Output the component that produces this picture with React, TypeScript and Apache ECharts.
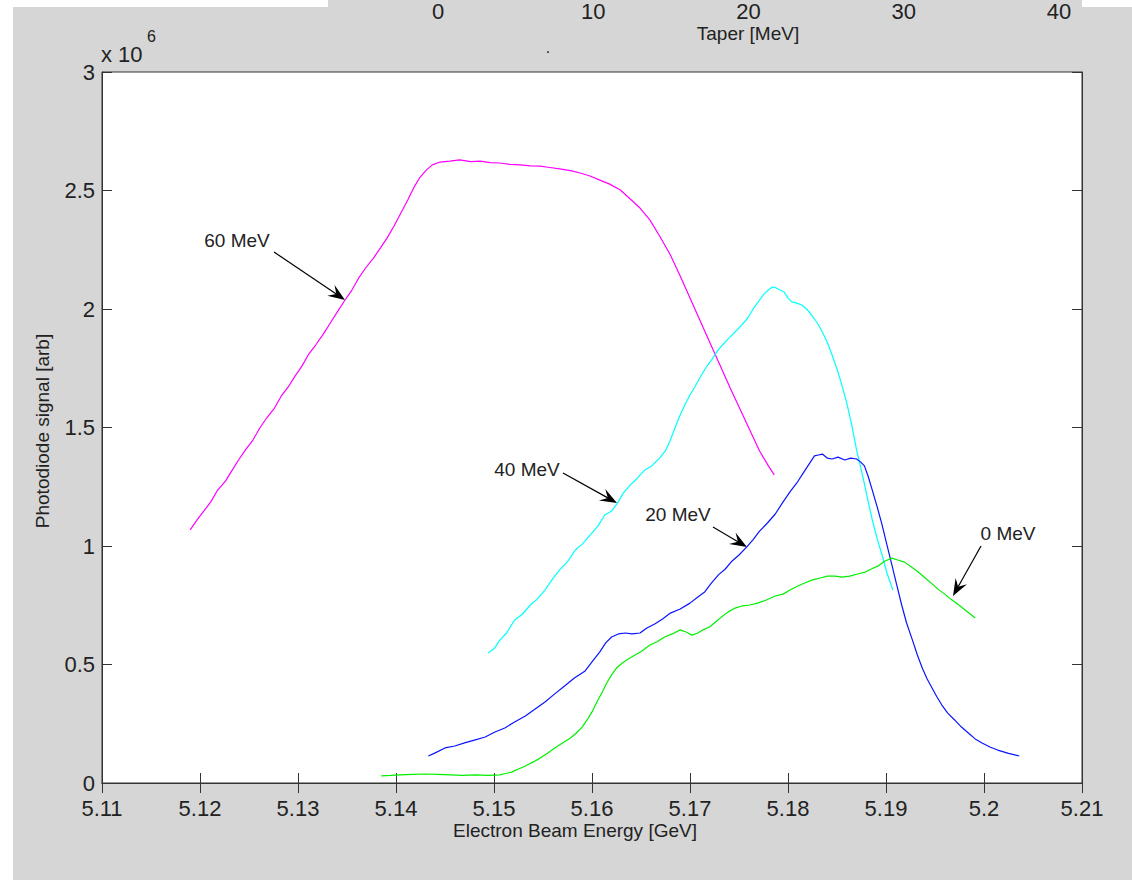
import React, { useEffect, useRef } from "react";
import * as echarts from "echarts";

// Electron beam energy [GeV] and photodiode signal [x 1e6 arb] for each taper setting
const taper60Energy = [5.119, 5.1197, 5.1204, 5.1211, 5.1218, 5.1226, 5.1233, 5.124, 5.1247, 5.1254, 5.1261, 5.1268, 5.1276, 5.1283, 5.129, 5.1297, 5.1304, 5.1311, 5.1318, 5.1326, 5.1333, 5.134, 5.1348, 5.1355, 5.1362, 5.1369, 5.1377, 5.1384, 5.1391, 5.1398, 5.1405, 5.1412, 5.1418, 5.1424, 5.1431, 5.1437, 5.1445, 5.1455, 5.1465, 5.1476, 5.1486, 5.1496, 5.1506, 5.1516, 5.1527, 5.1537, 5.1547, 5.1557, 5.1567, 5.1578, 5.1588, 5.1598, 5.1608, 5.1618, 5.1629, 5.1639, 5.1649, 5.1659, 5.1669, 5.168, 5.169, 5.17, 5.171, 5.172, 5.1731, 5.1741, 5.1751, 5.1761, 5.1771, 5.178, 5.1786];
const taper60Signal = [1.068, 1.11, 1.148, 1.186, 1.236, 1.274, 1.321, 1.367, 1.409, 1.447, 1.498, 1.54, 1.582, 1.633, 1.671, 1.717, 1.759, 1.81, 1.848, 1.895, 1.941, 1.987, 2.038, 2.08, 2.131, 2.173, 2.215, 2.257, 2.3, 2.35, 2.405, 2.46, 2.511, 2.553, 2.586, 2.608, 2.62, 2.624, 2.629, 2.622, 2.624, 2.618, 2.616, 2.61, 2.608, 2.604, 2.603, 2.597, 2.591, 2.584, 2.574, 2.561, 2.544, 2.527, 2.502, 2.464, 2.426, 2.376, 2.308, 2.228, 2.139, 2.046, 1.954, 1.861, 1.759, 1.667, 1.578, 1.489, 1.401, 1.338, 1.3];

const taper40Energy = [5.1494, 5.15, 5.1506, 5.1513, 5.1521, 5.1529, 5.1537, 5.1544, 5.1552, 5.156, 5.1567, 5.1575, 5.1583, 5.159, 5.1598, 5.1606, 5.1613, 5.162, 5.1626, 5.1632, 5.1639, 5.1646, 5.1654, 5.1661, 5.1669, 5.1675, 5.168, 5.1685, 5.169, 5.1695, 5.17, 5.1705, 5.171, 5.1716, 5.1722, 5.1728, 5.1733, 5.174, 5.1746, 5.1752, 5.1759, 5.1765, 5.1771, 5.1776, 5.178, 5.1784, 5.1788, 5.1792, 5.1796, 5.18, 5.1804, 5.1809, 5.1814, 5.1819, 5.1824, 5.183, 5.1835, 5.184, 5.1845, 5.185, 5.1855, 5.186, 5.1865, 5.187, 5.1876, 5.1881, 5.1886, 5.1891, 5.1896, 5.1901, 5.1907];
const taper40Signal = [0.549, 0.566, 0.603, 0.634, 0.688, 0.712, 0.751, 0.776, 0.814, 0.862, 0.899, 0.934, 0.983, 1.008, 1.046, 1.084, 1.131, 1.148, 1.181, 1.224, 1.257, 1.285, 1.321, 1.338, 1.371, 1.402, 1.447, 1.502, 1.553, 1.598, 1.637, 1.672, 1.709, 1.751, 1.785, 1.823, 1.848, 1.878, 1.903, 1.929, 1.962, 2.004, 2.038, 2.066, 2.08, 2.093, 2.089, 2.08, 2.072, 2.046, 2.03, 2.025, 2.017, 2.0, 1.975, 1.941, 1.903, 1.861, 1.806, 1.747, 1.679, 1.603, 1.511, 1.405, 1.3, 1.203, 1.11, 1.03, 0.962, 0.886, 0.814];

const taper20Energy = [5.1433, 5.144, 5.145, 5.146, 5.147, 5.148, 5.1491, 5.1501, 5.1511, 5.1521, 5.1532, 5.1542, 5.1552, 5.1562, 5.1572, 5.1582, 5.1593, 5.16, 5.1608, 5.1614, 5.162, 5.1627, 5.1634, 5.1641, 5.1649, 5.1656, 5.1664, 5.1672, 5.168, 5.169, 5.17, 5.1708, 5.1715, 5.1722, 5.1729, 5.1736, 5.1743, 5.175, 5.1758, 5.1764, 5.1771, 5.1779, 5.1787, 5.1795, 5.1802, 5.1809, 5.1815, 5.1821, 5.1827, 5.1831, 5.1835, 5.184, 5.1845, 5.1851, 5.1858, 5.1864, 5.187, 5.1874, 5.1878, 5.1882, 5.1886, 5.1891, 5.1896, 5.1901, 5.1906, 5.1911, 5.1916, 5.1921, 5.1927, 5.1932, 5.1937, 5.1942, 5.1947, 5.1952, 5.1957, 5.1963, 5.197, 5.1977, 5.1984, 5.1991, 5.1998, 5.2006, 5.2014, 5.2025, 5.2036];
const taper20Signal = [0.114, 0.127, 0.148, 0.156, 0.169, 0.181, 0.194, 0.215, 0.232, 0.257, 0.283, 0.312, 0.342, 0.376, 0.409, 0.443, 0.473, 0.511, 0.553, 0.591, 0.616, 0.629, 0.633, 0.629, 0.633, 0.654, 0.671, 0.692, 0.717, 0.734, 0.759, 0.785, 0.806, 0.844, 0.878, 0.903, 0.937, 0.962, 0.996, 1.025, 1.063, 1.097, 1.135, 1.186, 1.228, 1.266, 1.304, 1.342, 1.38, 1.384, 1.388, 1.371, 1.367, 1.375, 1.363, 1.371, 1.367, 1.355, 1.338, 1.291, 1.236, 1.165, 1.089, 1.004, 0.92, 0.835, 0.751, 0.675, 0.603, 0.54, 0.485, 0.439, 0.401, 0.363, 0.329, 0.295, 0.266, 0.236, 0.211, 0.186, 0.169, 0.152, 0.139, 0.125, 0.114];

const taper0Energy = [5.1385, 5.1395, 5.1404, 5.1417, 5.143, 5.1443, 5.1455, 5.1468, 5.1481, 5.1494, 5.1506, 5.1512, 5.1518, 5.1525, 5.1532, 5.154, 5.1547, 5.1555, 5.1562, 5.157, 5.1578, 5.1584, 5.159, 5.1595, 5.16, 5.1605, 5.161, 5.1615, 5.162, 5.1625, 5.1631, 5.1637, 5.1644, 5.1651, 5.1659, 5.1666, 5.1674, 5.1682, 5.169, 5.1696, 5.1702, 5.1708, 5.1713, 5.172, 5.1726, 5.1732, 5.1739, 5.1746, 5.1753, 5.1761, 5.1769, 5.1778, 5.1787, 5.1795, 5.1802, 5.181, 5.1817, 5.1825, 5.1833, 5.184, 5.1848, 5.1855, 5.1863, 5.1871, 5.1879, 5.1885, 5.1892, 5.1899, 5.1906, 5.1912, 5.1919, 5.1926, 5.1933, 5.194, 5.1947, 5.1953, 5.196, 5.1966, 5.1973, 5.1982, 5.1991];
const taper0Signal = [0.03, 0.032, 0.034, 0.036, 0.038, 0.036, 0.034, 0.032, 0.034, 0.032, 0.034, 0.04, 0.046, 0.059, 0.072, 0.089, 0.105, 0.127, 0.148, 0.169, 0.19, 0.211, 0.236, 0.266, 0.3, 0.342, 0.38, 0.422, 0.456, 0.485, 0.506, 0.523, 0.54, 0.557, 0.582, 0.595, 0.616, 0.629, 0.646, 0.637, 0.624, 0.633, 0.646, 0.658, 0.679, 0.7, 0.722, 0.738, 0.747, 0.751, 0.759, 0.772, 0.789, 0.797, 0.814, 0.831, 0.844, 0.857, 0.865, 0.873, 0.873, 0.869, 0.873, 0.882, 0.89, 0.903, 0.916, 0.937, 0.949, 0.941, 0.932, 0.911, 0.89, 0.865, 0.84, 0.818, 0.797, 0.776, 0.755, 0.726, 0.696];

const energyTicks = { min: 5.11, max: 5.21, step: 0.01 };
const signalTicks = { min: 0, max: 3e6, step: 5e5 };
const taperTicks = { min: 0, max: 40, step: 10 };

const FONT = "'Liberation Sans', Arial, Helvetica, sans-serif";
const INK = "#222";
const FIG_BG = "#d6d6d6";

const pairs = (xs: number[], ys: number[]) => xs.map((x, i) => [x, ys[i] * 1e6]);

function arrow(x1: number, y1: number, x2: number, y2: number) {
  const len = Math.hypot(x2 - x1, y2 - y1);
  const ux = (x2 - x1) / len;
  const uy = (y2 - y1) / len;
  const nx = -uy;
  const ny = ux;
  const L = 17;
  const W = 6.5;
  const bx = x2 - ux * L;
  const by = y2 - uy * L;
  const mx = x2 - ux * L * 0.62;
  const my = y2 - uy * L * 0.62;
  return [
    {
      type: "line",
      shape: { x1, y1, x2: mx, y2: my },
      style: { stroke: "#000", lineWidth: 1.2 },
    },
    {
      type: "polygon",
      shape: {
        points: [
          [x2, y2],
          [bx + nx * W, by + ny * W],
          [mx, my],
          [bx - nx * W, by - ny * W],
        ],
      },
      style: { fill: "#000" },
    },
  ];
}

function label(text: string, x: number, y: number, fontSize = 19, align = "center") {
  return {
    type: "text",
    x,
    y,
    style: { text, fontSize, fontFamily: FONT, fill: INK, align, verticalAlign: "middle" },
  };
}

export default function App() {
  const ref = useRef<HTMLDivElement>(null);

  useEffect(() => {
    document.body.style.margin = "0";
    if (!ref.current) return;
    const chart = echarts.init(ref.current, undefined, { renderer: "svg" });

    const line = (name: string, color: string, data: number[][]) => ({
      name,
      type: "line",
      xAxisIndex: 0,
      yAxisIndex: 0,
      data,
      showSymbol: false,
      symbol: "none",
      lineStyle: { color, width: 1.2 },
      z: 3,
    });

    chart.setOption({
      animation: false,
      backgroundColor: FIG_BG,
      textStyle: { fontFamily: FONT },
      grid: [
        { left: 102, top: 72, width: 980, height: 711, show: true, backgroundColor: "#fff", borderColor: "#333", borderWidth: 1 },
        { left: 438, top: 24, width: 621, height: 1, show: false },
      ],
      xAxis: [
        {
          gridIndex: 0,
          type: "value",
          position: "bottom",
          min: energyTicks.min,
          max: energyTicks.max,
          interval: energyTicks.step,
          axisLine: { show: true, lineStyle: { color: "#333" } },
          axisTick: { show: true, inside: true, length: 10, lineStyle: { color: "#333" } },
          axisLabel: {
            fontSize: 22,
            color: INK,
            margin: 14,
            fontFamily: FONT,
            showMinLabel: true,
            showMaxLabel: true,
            formatter: (v: number) => String(parseFloat(v.toFixed(2))),
          },
          splitLine: { show: false },
        },
        {
          gridIndex: 0,
          type: "value",
          position: "top",
          min: energyTicks.min,
          max: energyTicks.max,
          interval: energyTicks.step,
          axisLine: { show: true, lineStyle: { color: "#333" } },
          axisTick: { show: true, inside: true, length: 10, lineStyle: { color: "#333" } },
          axisLabel: { show: false },
          splitLine: { show: false },
        },
        {
          gridIndex: 1,
          type: "value",
          position: "top",
          min: taperTicks.min,
          max: taperTicks.max,
          interval: taperTicks.step,
          axisLine: { show: false },
          axisTick: { show: false },
          axisLabel: { fontSize: 22, color: INK, margin: 2, fontFamily: FONT, showMinLabel: true, showMaxLabel: true },
          splitLine: { show: false },
        },
      ],
      yAxis: [
        {
          gridIndex: 0,
          type: "value",
          position: "left",
          min: signalTicks.min,
          max: signalTicks.max,
          interval: signalTicks.step,
          axisLine: { show: true, lineStyle: { color: "#333" } },
          axisTick: { show: true, inside: true, length: 10, lineStyle: { color: "#333" } },
          axisLabel: {
            fontSize: 22,
            color: INK,
            margin: 7,
            fontFamily: FONT,
            showMinLabel: true,
            showMaxLabel: true,
            formatter: (v: number) => String(parseFloat((v / 1e6).toFixed(1))),
          },
          splitLine: { show: false },
        },
        {
          gridIndex: 0,
          type: "value",
          position: "right",
          min: signalTicks.min,
          max: signalTicks.max,
          interval: signalTicks.step,
          axisLine: { show: true, lineStyle: { color: "#333" } },
          axisTick: { show: true, inside: true, length: 10, lineStyle: { color: "#333" } },
          axisLabel: { show: false },
          splitLine: { show: false },
        },
        { gridIndex: 1, type: "value", show: false },
      ],
      series: [
        line("60 MeV", "#ff00ff", pairs(taper60Energy, taper60Signal)),
        line("40 MeV", "#00ffff", pairs(taper40Energy, taper40Signal)),
        line("20 MeV", "#0a14ff", pairs(taper20Energy, taper20Signal)),
        line("0 MeV", "#00f000", pairs(taper0Energy, taper0Signal)),
      ],
      graphic: [
        { type: "rect", shape: { x: 0, y: 0, width: 13, height: 880 }, style: { fill: "#fff" } },
        { type: "rect", shape: { x: 0, y: 0, width: 328, height: 7 }, style: { fill: "#fff" } },
        { type: "rect", shape: { x: 1082, y: 0, width: 50, height: 7 }, style: { fill: "#fff" } },
        label("Taper [MeV]", 748, 33, 19),
        label(".", 548, 47, 16),
        label("x 10", 101, 54, 22, "left"),
        label("6", 147, 36, 16, "left"),
        label("Electron Beam Energy [GeV]", 575, 830, 19),
        {
          type: "text",
          x: 42,
          y: 431,
          rotation: Math.PI / 2,
          style: { text: "Photodiode signal [arb]", fontSize: 19, fontFamily: FONT, fill: INK, align: "center", verticalAlign: "middle" },
        },
        label("60 MeV", 237, 240),
        ...arrow(274, 252, 345, 300),
        label("40 MeV", 527, 469),
        ...arrow(563, 473, 617, 503),
        label("20 MeV", 678, 514),
        ...arrow(713, 527, 747, 547),
        label("0 MeV", 1008, 533),
        ...arrow(981, 546, 953, 596),
      ],
    });

    return () => chart.dispose();
  }, []);

  return <div ref={ref} style={{ width: 1132, height: 880 }} />;
}
